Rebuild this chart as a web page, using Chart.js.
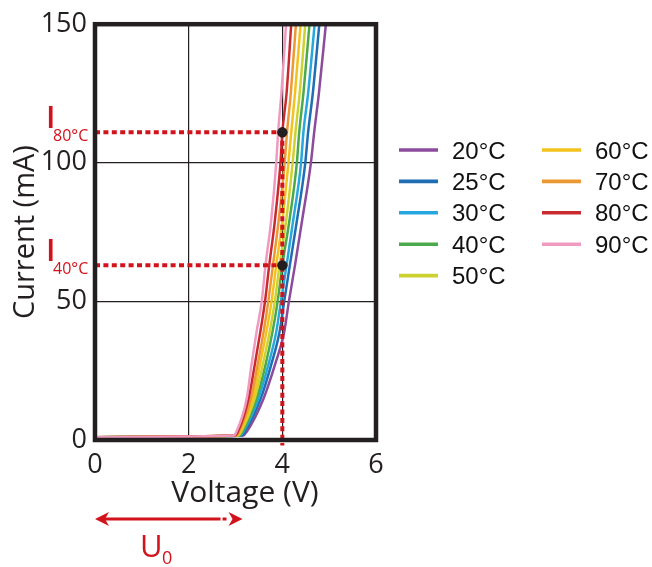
<!DOCTYPE html>
<html>
<head>
<meta charset="utf-8">
<script src="https://cdn.jsdelivr.net/npm/chart.js@4.4.1/dist/chart.umd.min.js"></script>
<style>
  body { margin: 0; background: #fff; }
  #ivChart { display: block; }
</style>
</head>
<body>
<canvas id="ivChart" width="652" height="567"></canvas>
<script>
// LED forward I-V curves at different temperatures
const temps = [20, 25, 30, 40, 50, 60, 70, 80, 90];
const colors = ['#8c4b9c', '#1f6db3', '#27a7df', '#4aa94b', '#cdd233', '#f3c21c', '#ec9934', '#c92a2f', '#ef9bbf'];

// leakage part below the knee, shared by every curve
const leakV = [0, 2.0];
const leakI = [1.0, 1.3];

// current steps (mA) above the knee, and the voltage of each curve there
const riseI = [1.6, 3, 15, 27, 39, 50, 63, 79, 100, 111, 125, 150];
const v20 = [3.16, 3.24, 3.60, 3.84, 4.04, 4.14, 4.27, 4.42, 4.61, 4.68, 4.78, 4.93];
const v25 = [3.13, 3.20, 3.54, 3.76, 3.94, 4.04, 4.16, 4.31, 4.49, 4.55, 4.65, 4.79];
const v30 = [3.10, 3.17, 3.49, 3.70, 3.87, 3.97, 4.09, 4.23, 4.40, 4.45, 4.55, 4.69];
const v40 = [3.08, 3.15, 3.45, 3.64, 3.79, 3.90, 4.00, 4.15, 4.31, 4.36, 4.45, 4.58];
const v50 = [3.06, 3.12, 3.41, 3.58, 3.73, 3.84, 3.94, 4.08, 4.22, 4.28, 4.37, 4.49];
const v60 = [3.03, 3.10, 3.37, 3.52, 3.66, 3.77, 3.87, 4.00, 4.13, 4.19, 4.27, 4.39];
const v70 = [3.01, 3.07, 3.33, 3.47, 3.60, 3.70, 3.80, 3.92, 4.05, 4.10, 4.18, 4.29];
const v80 = [2.98, 3.05, 3.28, 3.41, 3.53, 3.63, 3.72, 3.84, 3.96, 4.00, 4.09, 4.19];
const v90 = [2.96, 3.02, 3.24, 3.34, 3.45, 3.56, 3.64, 3.76, 3.87, 3.91, 3.98, 4.08];
const voltages = [v20, v25, v30, v40, v50, v60, v70, v80, v90];

const pointV = [4, 4];
const pointI = [63, 111];
const pointTemp = ['40°C', '80°C'];

// threshold voltage
const u0 = 3.15;

const xTicks = [0, 2, 4, 6];
const yTicks = [0, 50, 100, 150];

const RED = '#d3131c';
const INK = '#231f20';
const FONT = '"Open Sans", sans-serif';

function curvePoints(vs) {
	const pts = leakV.map((v, i) => ({ x: v, y: leakI[i] }));
	vs.forEach((v, i) => pts.push({ x: v, y: riseI[i] }));
	return pts;
}

function guide(pts) {
	return {
		data: pts,
		showLine: true,
		borderColor: RED,
		borderWidth: 4,
		borderDash: [5, 3.4],
		borderCapStyle: 'butt',
		pointRadius: 0,
		clip: false,
		order: 1
	};
}

let datasets = [];

// black dots where the guides meet the curves
datasets.push({
	data: pointV.map((v, i) => ({ x: v, y: pointI[i] })),
	pointRadius: 5.2,
	pointBackgroundColor: INK,
	pointBorderWidth: 0,
	order: 0
});

pointI.forEach((cur, i) => datasets.push(guide([{ x: 0, y: cur }, { x: pointV[i], y: cur }])));
datasets.push(guide([{ x: pointV[0], y: Math.max(...pointI) }, { x: pointV[0], y: -2 }]));

// hot curves drawn last so they sit on top
temps.forEach((t, i) => {
	datasets.push({
		label: t + '°C',
		data: curvePoints(voltages[i]),
		showLine: true,
		borderColor: colors[i],
		borderWidth: 2.5,
		pointRadius: 0,
		cubicInterpolationMode: 'monotone',
		order: 20 - i
	});
});

const overlay = {
	id: 'overlay',
	afterDatasetsDraw(chart) {
		const { ctx, chartArea: a } = chart;
		ctx.save();
		ctx.strokeStyle = INK;
		ctx.lineWidth = 4.5;
		ctx.strokeRect(a.left, a.top, a.right - a.left, a.bottom - a.top);
		ctx.restore();
	},
	afterDraw(chart) {
		const { ctx } = chart;
		const xs = chart.scales.x, ys = chart.scales.y;
		ctx.save();

		// x axis title
		ctx.fillStyle = INK;
		ctx.font = '30px ' + FONT;
		ctx.textAlign = 'center';
		ctx.textBaseline = 'alphabetic';
		ctx.fillText('Voltage (V)', 245, 502);

		// I labels next to the dotted guides
		ctx.fillStyle = RED;
		ctx.textAlign = 'left';
		pointI.forEach((cur, i) => {
			const y = ys.getPixelForValue(cur);
			ctx.font = '600 31px ' + FONT;
			ctx.fillText('I', 46, y - 4);
			ctx.font = '16px ' + FONT;
			ctx.fillText(pointTemp[i], 53, y + 9);
		});

		// U0 arrow from 0 V to the threshold
		const x0 = xs.getPixelForValue(0), x1 = xs.getPixelForValue(u0);
		const ay = 519;
		ctx.strokeStyle = RED;
		ctx.lineWidth = 3.2;
		ctx.beginPath();
		ctx.moveTo(x0 + 8, ay);
		ctx.lineTo(x1 - 22, ay);
		ctx.moveTo(x1 - 20, ay);
		ctx.lineTo(x1 - 16, ay);
		ctx.stroke();
		[[x0, 1], [x1, -1]].forEach(([tx, d]) => {
			ctx.beginPath();
			ctx.moveTo(tx, ay);
			ctx.lineTo(tx + d * 14, ay - 7);
			ctx.lineTo(tx + d * 10, ay);
			ctx.lineTo(tx + d * 14, ay + 7);
			ctx.closePath();
			ctx.fill();
		});
		ctx.font = '31px ' + FONT;
		ctx.fillText('U', 140, 557);
		ctx.font = '18px ' + FONT;
		ctx.fillText('0', 162, 564);

		// legend in two columns
		ctx.font = '24px "Liberation Sans", Arial, sans-serif';
		ctx.fillStyle = '#111';
		temps.forEach((t, i) => {
			const col = i < 5 ? 0 : 1;
			const row = i % 5;
			const lx = 399 + col * 143;
			const ly = 150 + row * 31.4;
			ctx.strokeStyle = colors[i];
			ctx.lineWidth = 3.6;
			ctx.beginPath();
			ctx.moveTo(lx, ly);
			ctx.lineTo(lx + 39, ly);
			ctx.stroke();
			ctx.fillText(t + '°C', lx + 53, ly + 8.5);
		});
		ctx.restore();
	}
};

let ctx = document.getElementById('ivChart');

const config = {
	type: 'scatter',
	data: { datasets: datasets },
	plugins: [overlay],
	options: {
		responsive: false,
		animation: false,
		layout: { padding: { top: 20, right: 276, bottom: 0, left: 0 } },
		plugins: {
			legend: { display: false },
			tooltip: { enabled: false }
		},
		scales: {
			x: {
				type: 'linear',
				min: xTicks[0],
				max: xTicks[xTicks.length - 1],
				afterFit: (scale) => { scale.height = 127; },
				afterBuildTicks: (scale) => { scale.ticks = xTicks.map(v => ({ value: v })); },
				border: { display: false },
				grid: { color: INK, lineWidth: 1.2, drawTicks: false },
				ticks: { color: INK, padding: 9, font: { family: FONT, size: 27 } }
			},
			y: {
				type: 'linear',
				min: yTicks[0],
				max: yTicks[yTicks.length - 1],
				afterFit: (scale) => { scale.width = 95; },
				afterBuildTicks: (scale) => { scale.ticks = yTicks.map(v => ({ value: v })); },
				border: { display: false },
				grid: { color: INK, lineWidth: 1.2, drawTicks: false },
				ticks: { color: INK, padding: 8, font: { family: FONT, size: 27 } },
				title: {
					display: true,
					text: 'Current (mA)',
					color: INK,
					padding: { top: 8 },
					font: { family: FONT, size: 29 }
				}
			}
		}
	}
};

let ivChart = new Chart(ctx, config);
</script>
</body>
</html>
